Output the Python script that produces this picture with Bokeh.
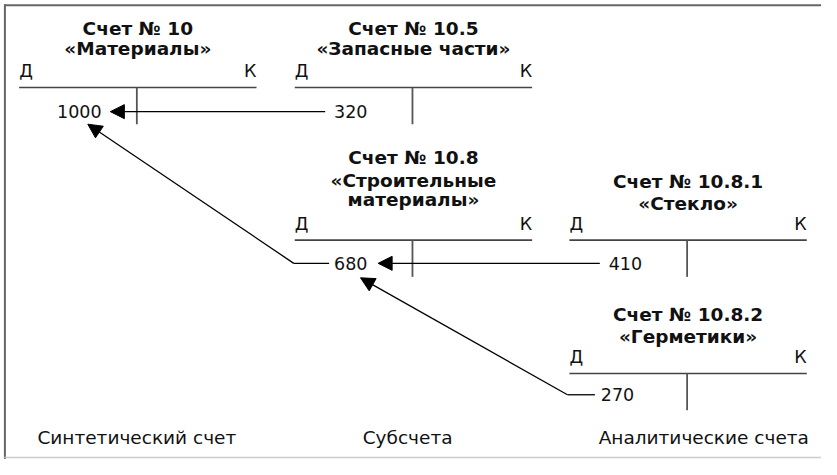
from bokeh.plotting import figure
from bokeh.models import Range1d, Arrow, NormalHead
from bokeh.core.properties import value
from bokeh.embed import file_html
from bokeh.resources import INLINE

# ---- data ----
account_numbers = ["Счет № 10", "Счет № 10.5", "Счет № 10.8", "Счет № 10.8.1", "Счет № 10.8.2"]
account_names = [["«Материалы»"], ["«Запасные части»"], ["«Строительные", "материалы»"],
                 ["«Стекло»"], ["«Герметики»"]]
amounts = [1000, 320, 680, 410, 270]
debit_label = "Д"
credit_label = "К"
level_labels = ["Синтетический счет", "Субсчета", "Аналитические счета"]

# ---- layout (coordinates on an 837x475 canvas; y grows downward) ----
acc_cx = [140, 421, 421, 701, 701]           # T-account centres
acc_line_y = [90, 90, 248, 248, 386]          # T horizontal line
acc_title_y = [[29, 50], [29, 50], [162, 186, 206], [187, 210], [325, 348]]
half_w = 121
level_x = [139, 415, 717]
level_y = 452

FONT = value("DejaVu Sans")
W, H = 821, 459
p = figure(width=W, height=H, x_range=Range1d(0, 837), y_range=Range1d(475, 0),
           output_backend="svg", toolbar_location=None, min_border=0)
p.axis.visible = False
p.grid.visible = False
p.outline_line_color = None
p.background_fill_color = "white"

# frame
p.segment(x0=[4], y0=[5], x1=[837], y1=[5], line_color="#666666", line_width=2)
p.segment(x0=[4.5], y0=[4], x1=[4.5], y1=[475], line_color="#666666", line_width=2)
p.segment(x0=[4], y0=[473], x1=[837], y1=[473], line_color="#cccccc", line_width=1.5)

# T accounts
for i in range(5):
    cx, ly = acc_cx[i], acc_line_y[i]
    p.segment(x0=[cx - half_w], y0=[ly], x1=[cx + half_w], y1=[ly], line_color="#444444", line_width=1.6)
    p.segment(x0=[cx - 1], y0=[ly], x1=[cx - 1], y1=[ly + 38], line_color="#555555", line_width=1.8)
    lines = [account_numbers[i]] + account_names[i]
    p.text(x=[cx] * len(lines), y=acc_title_y[i], text=lines, text_font=FONT,
           text_font_style="bold", text_font_size="18.5px", text_align="center",
           text_baseline="middle", text_color="#111111")
    p.text(x=[cx - half_w], y=[ly - 17], text=[debit_label], text_font=FONT,
           text_font_size="17.5px", text_align="left", text_baseline="middle", text_color="#111111")
    p.text(x=[cx + half_w], y=[ly - 17], text=[credit_label], text_font=FONT,
           text_font_size="17.5px", text_align="right", text_baseline="middle", text_color="#111111")

# amounts
amount_x = [103, 340, 340, 620, 612]
amount_y = [115, 115, 272, 272, 408]
amount_align = ["right", "left", "left", "left", "left"]
for i, a in enumerate(amounts):
    p.text(x=[amount_x[i]], y=[amount_y[i]], text=[str(a)], text_font=FONT,
           text_font_size="17.5px", text_align=amount_align[i], text_baseline="middle",
           text_color="#111111")

# connectors
head = lambda: NormalHead(size=14, fill_color="black", line_color="black", line_width=1)
# 320 -> 1000
p.add_layout(Arrow(end=head(), x_start=331, y_start=115, x_end=112, y_end=115,
                   line_color="black", line_width=1.3))
# 680 -> 1000
p.line(x=[335, 299], y=[272, 272], line_color="black", line_width=1.3)
p.add_layout(Arrow(end=head(), x_start=299, y_start=272, x_end=89, y_end=128,
                   line_color="black", line_width=1.3))
# 410 -> 680
p.add_layout(Arrow(end=head(), x_start=611, y_start=272, x_end=385, y_end=272,
                   line_color="black", line_width=1.3))
# 270 -> 680
p.line(x=[606, 578], y=[408, 408], line_color="black", line_width=1.3)
p.add_layout(Arrow(end=head(), x_start=578, y_start=408, x_end=367, y_end=287,
                   line_color="black", line_width=1.3))

# level labels
p.text(x=level_x, y=[level_y] * 3, text=level_labels, text_font=FONT, text_font_size="18.5px",
       text_align="center", text_baseline="middle", text_color="#111111")

open("out.html", "w").write(file_html(p, INLINE))
